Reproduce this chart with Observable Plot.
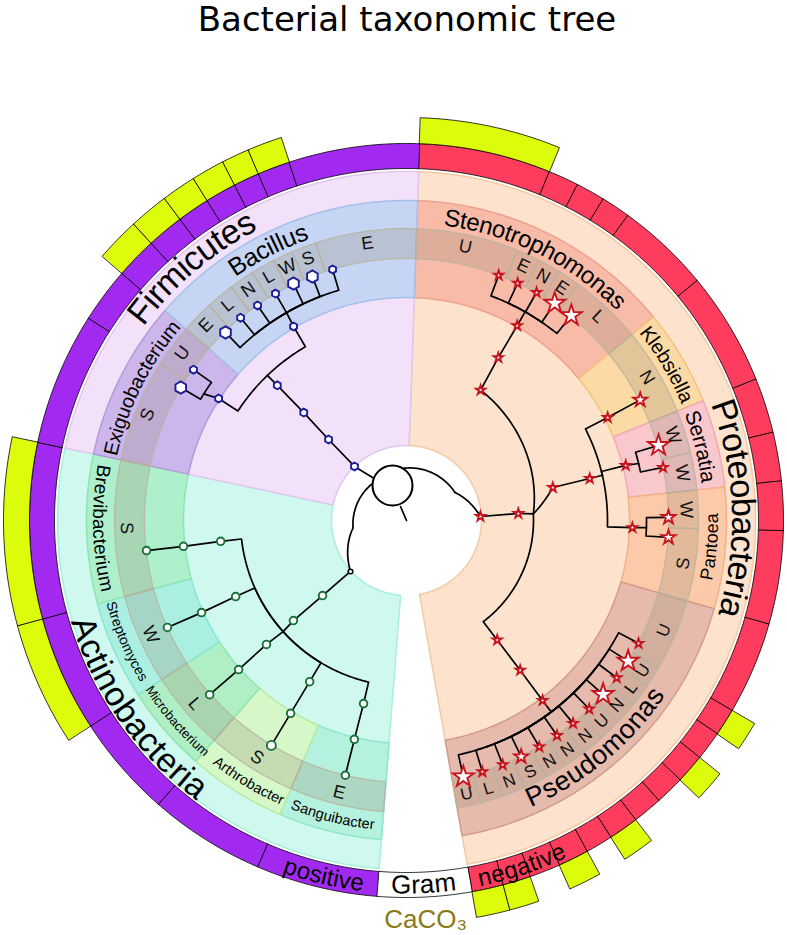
<!DOCTYPE html>
<html>
<head>
<meta charset="utf-8">
<script src="https://cdn.jsdelivr.net/npm/d3@7"></script>
<script src="https://cdn.jsdelivr.net/npm/@observablehq/plot@0.6"></script>
<style>
  html, body { margin: 0; padding: 0; background: #fff; }
  #title { width: 787px; box-sizing: border-box; padding-left: 27px; height: 40px; line-height: 38px;
           font-family: "DejaVu Sans", sans-serif; font-size: 34px; text-align: center; color: #000; overflow: visible; }
  #chart svg { display: block; }
</style>
</head>
<body>
<div id="title">Bacterial taxonomic tree</div>
<div id="chart"></div>
<script>
// ======================= DATA =======================
const phyla = ["Proteobacteria", "Actinobacteria", "Firmicutes"];
const gramStain = ["negative", "positive", "positive"];

const genera = ["Stenotrophomonas", "Klebsiella", "Serratia", "Pantoea", "Pseudomonas",
  "Sanguibacter", "Arthrobacter", "Microbacterium", "Streptomyces", "Brevibacterium",
  "Exiguobacterium", "Bacillus"];
const genusPhylum = ["Proteobacteria", "Proteobacteria", "Proteobacteria", "Proteobacteria", "Proteobacteria",
  "Actinobacteria", "Actinobacteria", "Actinobacteria", "Actinobacteria", "Actinobacteria",
  "Firmicutes", "Firmicutes"];

// isolates (tree leaves), clockwise from the top; sector in degrees
const leafGenus = [
  "Stenotrophomonas", "Stenotrophomonas", "Stenotrophomonas", "Stenotrophomonas", "Stenotrophomonas",
  "Klebsiella", "Serratia", "Serratia", "Pantoea", "Pantoea",
  "Pseudomonas", "Pseudomonas", "Pseudomonas", "Pseudomonas", "Pseudomonas", "Pseudomonas",
  "Pseudomonas", "Pseudomonas", "Pseudomonas", "Pseudomonas", "Pseudomonas", "Pseudomonas",
  "Sanguibacter", "Arthrobacter", "Microbacterium", "Streptomyces", "Brevibacterium",
  "Exiguobacterium", "Exiguobacterium",
  "Bacillus", "Bacillus", "Bacillus", "Bacillus", "Bacillus", "Bacillus", "Bacillus"];
const leafSite = ["U", "E", "N", "E", "L", "N", "W", "W", "W", "S",
  "U", "U", "L", "N", "U", "N", "N", "N", "S", "N", "L", "U",
  "E", "S", "L", "W", "S",
  "S", "U",
  "E", "L", "N", "L", "W", "S", "E"];
const leafFrom = [2, 22.3, 27, 31.5, 36, 50.5, 68, 76.5, 84, 91.6,
  106, 120.3, 124.5, 129, 133.5, 138, 142.6, 147.2, 151.4, 156.1, 160.9, 165.2,
  184.5, 203.3, 221.2, 237, 254.9,
  282, 302.5,
  311, 317.4, 323.1, 328.1, 332.9, 336.9, 341.9];
const leafTo = [22.3, 27, 31.5, 36, 50.5, 68, 76.5, 84, 91.6, 106,
  120.3, 124.5, 129, 133.5, 138, 142.6, 147.2, 151.4, 156.1, 160.9, 165.2, 170,
  203.3, 221.2, 237, 254.9, 282,
  302.5, 311,
  317.4, 323.1, 328.1, 332.9, 336.9, 341.9, 362];
const leafCaCO3 = [1, 0, 0, 0, 0, 0, 0, 0, 0, 0,
  0, 1, 0, 1, 0, 0, 1, 0, 1, 0, 1, 1,
  0, 0, 0, 1, 1,
  0, 0,
  1, 1, 1, 1, 1, 1, 0];

// tree nodes: angle (deg, clockwise from top), radius, parent, marker class, link shape
const nodeName = ["root", "stub", "loop",
  "F0", "F1", "F2", "F3", "F4", "Fb", "Ex", "Exc", "ExS", "ExU", "Bn", "Bc", "BE1", "BL1", "BN", "BL2", "BW", "BS", "BE2",
  "A0", "Aw", "Ac0", "m1", "m2", "Ac1", "m3", "m4", "mL", "Bv1", "Bv2", "BvL", "St1", "St2", "StL", "Ar1", "Ar2", "ArL", "Sg1", "Sg2", "SgL",
  "P0", "Pw", "P1", "P2", "T", "S1", "S2", "S3", "Sc", "SU", "SE1", "SN", "SE2", "SL",
  "A1", "M1", "M2", "Kn", "KN", "Sn", "Ssc", "SW1", "SW2", "Pn", "Psc", "PW", "PS",
  "Ps1", "Ps2", "Ps3", "Pc", "q1", "q2", "q3", "q4", "q5", "q6", "q7", "q8", "q9", "q10", "q11", "q12"];
const nodeParent = ["", "root", "",
  "", "F0", "F1", "F2", "F3", "F4", "Fb", "Ex", "Exc", "Exc", "Fb", "Bn", "Bc", "Bc", "Bc", "Bc", "Bc", "Bc", "Bc",
  "", "A0", "Aw", "Ac0", "m1", "m2", "Ac1", "m3", "m4", "Ac1", "Bv1", "Bv2", "Ac1", "St1", "St2", "Ac1", "Ar1", "Ar2", "Ac1", "Sg1", "Sg2",
  "", "P0", "Pw", "P1", "P2", "T", "S1", "S2", "S3", "Sc", "Sc", "Sc", "Sc", "Sc",
  "T", "A1", "M1", "M2", "Kn", "M2", "Sn", "Ssc", "Ssc", "M2", "Pn", "Psc", "Psc",
  "T", "Ps1", "Ps2", "Ps3", "Pc", "Pc", "Pc", "Pc", "Pc", "Pc", "Pc", "Pc", "Pc", "Pc", "Pc", "Pc"];
const nodeAngle = [0, 336.8, 338.2,
  321.7, 316.1, 316.1, 316.4, 316.3, 316.2, 303, 302, 300.5, 305.3, 329.8, 330, 316.1, 320.7, 325.3, 330, 334.5, 338.9, 343.6,
  317.4, 262, 227.7, 228.2, 228.5, 228, 228.5, 228.4, 228.5, 263.6, 263.4, 263.4, 246, 245.8, 245.9, 211, 211, 211, 193.2, 193.4, 193.5,
  -4.4, 60, 86.9, 86.4, 87, 29.6, 29.4, 29.6, 29.6, 20.6, 25.1, 29.7, 34.3, 38.8,
  77.3, 77.1, 77, 62.9, 62.7, 75.9, 76.2, 73.4, 78.3, 91.8, 91.7, 89.3, 93.7,
  142.8, 142.8, 142.9, 142.9, 117.9, 122.4, 126.8, 131.5, 135.9, 140.6, 145, 149.6, 154.1, 158.5, 163.2, 167.5];
const nodeRadius = [0, 15.2, 37.7,
  54.8, 75, 112.4, 149, 187, 201, 224, 239, 262, 261, 224.5, 240, 261, 262, 261.6, 262, 262.5, 261.5, 261.7,
  50.2, 54, 75.7, 112.6, 151, 166, 187, 224.5, 262.8, 187, 224.5, 261.7, 187, 224.7, 261.9, 188, 225, 262.4, 188, 225, 262,
  52.2, 56, 74, 112, 127, 150, 187, 224, 240, 262, 262, 262.5, 263, 263,
  150, 188, 201, 226, 263, 226, 239, 263, 262, 226, 240, 262, 262.5,
  150, 188, 225.6, 240, 262.5, 262.5, 262.5, 262.5, 262.5, 262.5, 262.5, 262.5, 262.5, 262.5, 262.5, 262.5];
// marker class: 0 none, 1 small, 2 medium, 3 large, 8 ring, 9 junction
const nodeMarker = [0, 0, 8,
  0, 1, 1, 1, 1, 0, 1, 0, 3, 1, 1, 0, 3, 1, 1, 1, 3, 3, 1,
  0, 0, 9, 1, 1, 0, 1, 1, 1, 1, 1, 1, 1, 1, 1, 1, 1, 2, 1, 1, 1,
  0, 0, 1, 1, 0, 1, 1, 1, 0, 1, 1, 1, 3, 3,
  1, 1, 0, 1, 2, 1, 0, 3, 1, 1, 0, 2, 2,
  1, 1, 1, 0, 1, 3, 1, 3, 1, 1, 1, 1, 2, 1, 1, 3];
const nodeLink = ["", "line", "",
  "", "line", "line", "line", "line", "line", "arc", "line", "arc", "arc", "arc", "line", "arc", "arc", "arc", "arc", "arc", "arc", "arc",
  "", "spiral", "spiral", "line", "line", "line", "line", "line", "line", "arc", "line", "line", "arc", "line", "line", "arc", "line", "line", "arc", "line", "line",
  "", "spiral", "spiral", "line", "line", "spiral", "line", "line", "line", "arc", "arc", "arc", "arc", "arc",
  "spiral", "line", "line", "arc", "line", "arc", "line", "arc", "arc", "arc", "line", "arc", "arc",
  "arc", "line", "line", "line", "arc", "arc", "arc", "arc", "arc", "arc", "arc", "arc", "arc", "arc", "arc", "arc"];
const nodePhylum = ["", "", "",
  ...Array(19).fill("Firmicutes"),
  ...Array(21).fill("Actinobacteria"),
  ...Array(43).fill("Proteobacteria")];

const ringLegend = ["CaCO₃"];

// ======================= LAYOUT / STYLE =======================
const FONT = '"Liberation Sans", Arial, Helvetica, sans-serif';
const R = {hole: 75, wedge: 349, band0: 223, band1: 320, cell0: 262, cell1: 292, site: 280,
           genus: 306, phylum: 338, ring0: 352, ring1: 377, bar1: 403, legend: 400};
const phylumFill = {Proteobacteria: "#fde3cd", Actinobacteria: "#cff9ee", Firmicutes: "#f3e1fa"};
const phylumEdge = {Proteobacteria: "#f5c9a2", Actinobacteria: "#a9efdf", Firmicutes: "#e2c5f0"};
const genusFill = {Stenotrophomonas: "#f7bba8", Klebsiella: "#fcdaa6", Serratia: "#f9c8cd", Pantoea: "#fccaa9",
  Pseudomonas: "#e6baad", Sanguibacter: "#b5f1df", Arthrobacter: "#d6f8c9", Microbacterium: "#b0eec6",
  Streptomyces: "#abefe3", Brevibacterium: "#aef0cb", Exiguobacterium: "#ccb6ec", Bacillus: "#c6d5f3"};
const genusEdge = {Stenotrophomonas: "#f0a08e", Klebsiella: "#f4c27c", Serratia: "#f2a9b3", Pantoea: "#f3b08a",
  Pseudomonas: "#d29c8c", Sanguibacter: "#8fe6cb", Arthrobacter: "#b5ec9f", Microbacterium: "#8fe3ab",
  Streptomyces: "#86e6d4", Brevibacterium: "#8be6b3", Exiguobacterium: "#b39ad9", Bacillus: "#a4c0ea"};
const gramFill = {negative: "#fe3c5d", positive: "#a22af0"};
const genusFont = {Stenotrophomonas: 24, Klebsiella: 20, Serratia: 21, Pantoea: 18, Pseudomonas: 27,
  Sanguibacter: 14.5, Arthrobacter: 14.5, Microbacterium: 13, Streptomyces: 14, Brevibacterium: 19,
  Exiguobacterium: 20, Bacillus: 25};
const genusNudge = {Bacillus: -3.5, Pseudomonas: 2.3, Arthrobacter: -1.2, Streptomyces: 0.6, Microbacterium: -0.4};
const phylumNudge = {Firmicutes: -2.3, Proteobacteria: 2, Actinobacteria: 1.7};
const markerColor = {Firmicutes: "#1c1c9c", Actinobacteria: "#177238", Proteobacteria: "#c8141e"};
const markerSymbol = {Firmicutes: "hexagon", Actinobacteria: "circle", Proteobacteria: "star"};
const markerR = {
  Firmicutes: {1: 3.4, 2: 4.3, 3: 5.3},
  Actinobacteria: {1: 3.8, 2: 4.5, 3: 5},
  Proteobacteria: {1: 2.9, 2: 4.4, 3: 6.6}
};

const rad = Math.PI / 180;
const px = (a, r) => r * Math.sin(a * rad);
const py = (a, r) => r * Math.cos(a * rad);
const norm = a => ((a % 360) + 360) % 360;
const flipped = a => norm(a) > 90 && norm(a) < 270;

function sector(a1, a2, r1, r2) {
  const n = Math.max(2, Math.ceil(Math.abs(a2 - a1) / 0.5));
  const pts = [];
  for (let i = 0; i <= n; i++) { const a = a1 + (a2 - a1) * i / n; pts.push([px(a, r2), py(a, r2)]); }
  for (let i = n; i >= 0; i--) { const a = a1 + (a2 - a1) * i / n; pts.push([px(a, r1), py(a, r1)]); }
  return pts;
}
function pushSector(arr, id, a1, a2, r1, r2, fill, stroke) {
  for (const [x, y] of sector(a1, a2, r1, r2)) arr.push({id, x, y, fill, stroke});
}

const genusOf = g => genusPhylum[genera.indexOf(g)];
const leaves = leafGenus.map((g, i) => ({genus: g, phylum: genusOf(g), site: leafSite[i],
  from: leafFrom[i], to: leafTo[i], caco3: leafCaCO3[i], mid: (leafFrom[i] + leafTo[i]) / 2}));
const phylumSpan = phyla.map(p => {
  const ls = leaves.filter(l => l.phylum === p);
  return {phylum: p, from: d3.min(ls, l => l.from), to: d3.max(ls, l => l.to)};
});
const genusSpan = genera.map(g => {
  const ls = leaves.filter(l => l.genus === g);
  return {genus: g, from: d3.min(ls, l => l.from), to: d3.max(ls, l => l.to)};
});

// ----- polygons -----
const wedgePts = [], bandPts = [], cellPts = [], ringPts = [], barPts = [];
phylumSpan.forEach(s => pushSector(wedgePts, s.phylum, s.from, s.to, R.hole, R.wedge, phylumFill[s.phylum], phylumEdge[s.phylum]));
genusSpan.forEach(s => pushSector(bandPts, s.genus, s.from, s.to, R.band0, R.band1, genusFill[s.genus], genusEdge[s.genus]));
leaves.forEach((l, i) => {
  pushSector(cellPts, "c" + i, l.from, l.to, R.cell0, R.cell1, "rgba(150,140,115,0.26)", "rgba(185,180,160,0.85)");
  const gram = gramStain[phyla.indexOf(l.phylum)];
  pushSector(ringPts, "g" + i, l.from, l.to, R.ring0, R.ring1, gramFill[gram], "#000");
  if (l.caco3) pushSector(barPts, "b" + i, l.from, l.to, R.ring1, R.bar1, "#ddfc0c", "#000");
});
const gapFrom = phylumSpan.find(s => s.phylum === "Proteobacteria").to;
const gapTo = phylumSpan.find(s => s.phylum === "Actinobacteria").from;
pushSector(ringPts, "gram", gapFrom, gapTo, R.ring0, R.ring1, "#ffffff", "#000");

// ----- tree -----
const nodes = nodeName.map((n, i) => ({name: n, parent: nodeParent[i], a: nodeAngle[i], r: nodeRadius[i],
  marker: nodeMarker[i], link: nodeLink[i], phylum: nodePhylum[i]}));
const byName = new Map(nodes.map(d => [d.name, d]));
const linkPts = [];
nodes.forEach(c => {
  if (!c.parent) return;
  const p = byName.get(c.parent);
  const pts = [];
  if (c.link === "spiral") {
    const n = 48;
    for (let i = 0; i <= n; i++) { const t = i / n; const a = p.a + (c.a - p.a) * t, r = p.r + (c.r - p.r) * t; pts.push([px(a, r), py(a, r)]); }
  } else if (c.link === "arc") {
    const n = Math.max(1, Math.ceil(Math.abs(c.a - p.a) / 0.5));
    for (let i = 0; i <= n; i++) { const a = p.a + (c.a - p.a) * i / n; pts.push([px(a, p.r), py(a, p.r)]); }
    pts.push([px(c.a, c.r), py(c.a, c.r)]);
  } else {
    pts.push([px(p.a, p.r), py(p.a, p.r)], [px(c.a, c.r), py(c.a, c.r)]);
  }
  pts.forEach(([x, y]) => linkPts.push({id: c.name, x, y}));
});

// ----- labels -----
const arcLabels = [];
phylumSpan.forEach(s => arcLabels.push({text: s.phylum, angle: (s.from + s.to) / 2 + (phylumNudge[s.phylum] || 0), radius: R.phylum, size: 34}));
genusSpan.forEach(s => arcLabels.push({text: s.genus, angle: (s.from + s.to) / 2 + (genusNudge[s.genus] || 0),
  radius: s.genus === "Pseudomonas" ? 304 : (s.genus === "Exiguobacterium" ? 303 : R.genus), size: genusFont[s.genus]}));
const ringMid = (R.ring0 + R.ring1) / 2;
phylumSpan.forEach((s, i) => {
  const gram = gramStain[i];
  if (gram === "negative") arcLabels.push({text: gram, angle: s.to - 8.5, radius: ringMid, size: 24});
  if (gram === "positive" && s.phylum === "Actinobacteria") arcLabels.push({text: gram, angle: s.from + 8.5, radius: ringMid, size: 24});
});
arcLabels.push({text: "Gram", angle: (gapFrom + gapTo) / 2, radius: ringMid, size: 26});

function arcTextMark(items) {
  return (index, scales) => {
    const sx = scales && typeof scales.x === "function" ? scales.x : (v => v + 406);
    const sy = scales && typeof scales.y === "function" ? scales.y : (v => 480 - v);
    const k = Math.abs(sx(1) - sx(0));
    const g = d3.create("svg:g").attr("font-family", FONT).attr("fill", "#000");
    const defs = g.append("defs");
    items.forEach((d, i) => {
      const f = flipped(d.angle), span = 80;
      const a1 = f ? d.angle + span : d.angle - span;
      const a2 = f ? d.angle - span : d.angle + span;
      const rr = d.radius * k;
      const id = "arcpath-" + i;
      defs.append("path").attr("id", id)
        .attr("d", `M${sx(px(a1, d.radius))},${sy(py(a1, d.radius))}A${rr},${rr} 0 0 ${f ? 0 : 1} ${sx(px(a2, d.radius))},${sy(py(a2, d.radius))}`);
      g.append("text").attr("font-size", d.size).attr("dominant-baseline", "central")
        .append("textPath").attr("href", "#" + id).attr("startOffset", "50%").attr("text-anchor", "middle").text(d.text);
    });
    return g.node();
  };
}

const markerNodes = nodes.filter(d => d.marker >= 1 && d.marker <= 3);
const legendRows = ringLegend.map(t => ({text: t, angle: (gapFrom + gapTo) / 2}));

const chart = Plot.plot({
  width: 787, height: 895, margin: 0,
  x: {domain: [-406, 381], axis: null},
  y: {domain: [-415, 480], axis: null},
  color: {type: "identity"},
  r: {type: "identity"},
  style: {fontFamily: FONT, background: "#fff", color: "#000"},
  marks: [
    Plot.line(wedgePts, {x: "x", y: "y", z: "id", fill: "fill", stroke: "stroke", strokeWidth: 1.5, curve: "linear-closed"}),
    Plot.line(bandPts, {x: "x", y: "y", z: "id", fill: "fill", stroke: "stroke", strokeWidth: 1.5, curve: "linear-closed"}),
    Plot.line(cellPts, {x: "x", y: "y", z: "id", fill: "fill", stroke: "stroke", strokeWidth: 1.3, curve: "linear-closed"}),
    Plot.line(ringPts, {x: "x", y: "y", z: "id", fill: "fill", stroke: "stroke", strokeWidth: 0.8, curve: "linear-closed"}),
    Plot.line(barPts, {x: "x", y: "y", z: "id", fill: "fill", stroke: "stroke", strokeWidth: 0.8, curve: "linear-closed"}),
    Plot.line(linkPts, {x: "x", y: "y", z: "id", stroke: "#000", strokeWidth: 1.7, curve: "linear"}),
    Plot.dot(nodes.filter(d => d.marker === 8), {x: d => px(d.a, d.r), y: d => py(d.a, d.r), r: 20, stroke: "#000", strokeWidth: 2, fill: "none"}),
    Plot.dot(nodes.filter(d => d.marker === 9), {x: d => px(d.a, d.r), y: d => py(d.a, d.r), r: 2.3, stroke: "#000", strokeWidth: 1.5, fill: "#fff"}),
    ...phyla.map(p => Plot.dot(markerNodes.filter(d => d.phylum === p), {
      x: d => px(d.a, d.r), y: d => py(d.a, d.r), r: d => markerR[p][d.marker],
      symbol: markerSymbol[p], fill: "#fff", stroke: markerColor[p], strokeWidth: 1.9})),
    Plot.text(leaves, {x: d => px(d.mid, R.site), y: d => py(d.mid, R.site), text: "site",
      rotate: d => flipped(d.mid) ? d.mid - 180 : d.mid, fontSize: d => d.genus === "Pseudomonas" ? 17 : 18,
      fill: "#111", textAnchor: "middle", lineAnchor: "middle"}),
    arcTextMark(arcLabels),
    Plot.text(legendRows, {x: d => px(d.angle, R.legend), y: d => py(d.angle, R.legend), text: "text", fontSize: 26,
      fill: "#8a7a16", textAnchor: "middle", lineAnchor: "middle"})
  ]
});
document.getElementById("chart").appendChild(chart);
</script>
</body>
</html>
